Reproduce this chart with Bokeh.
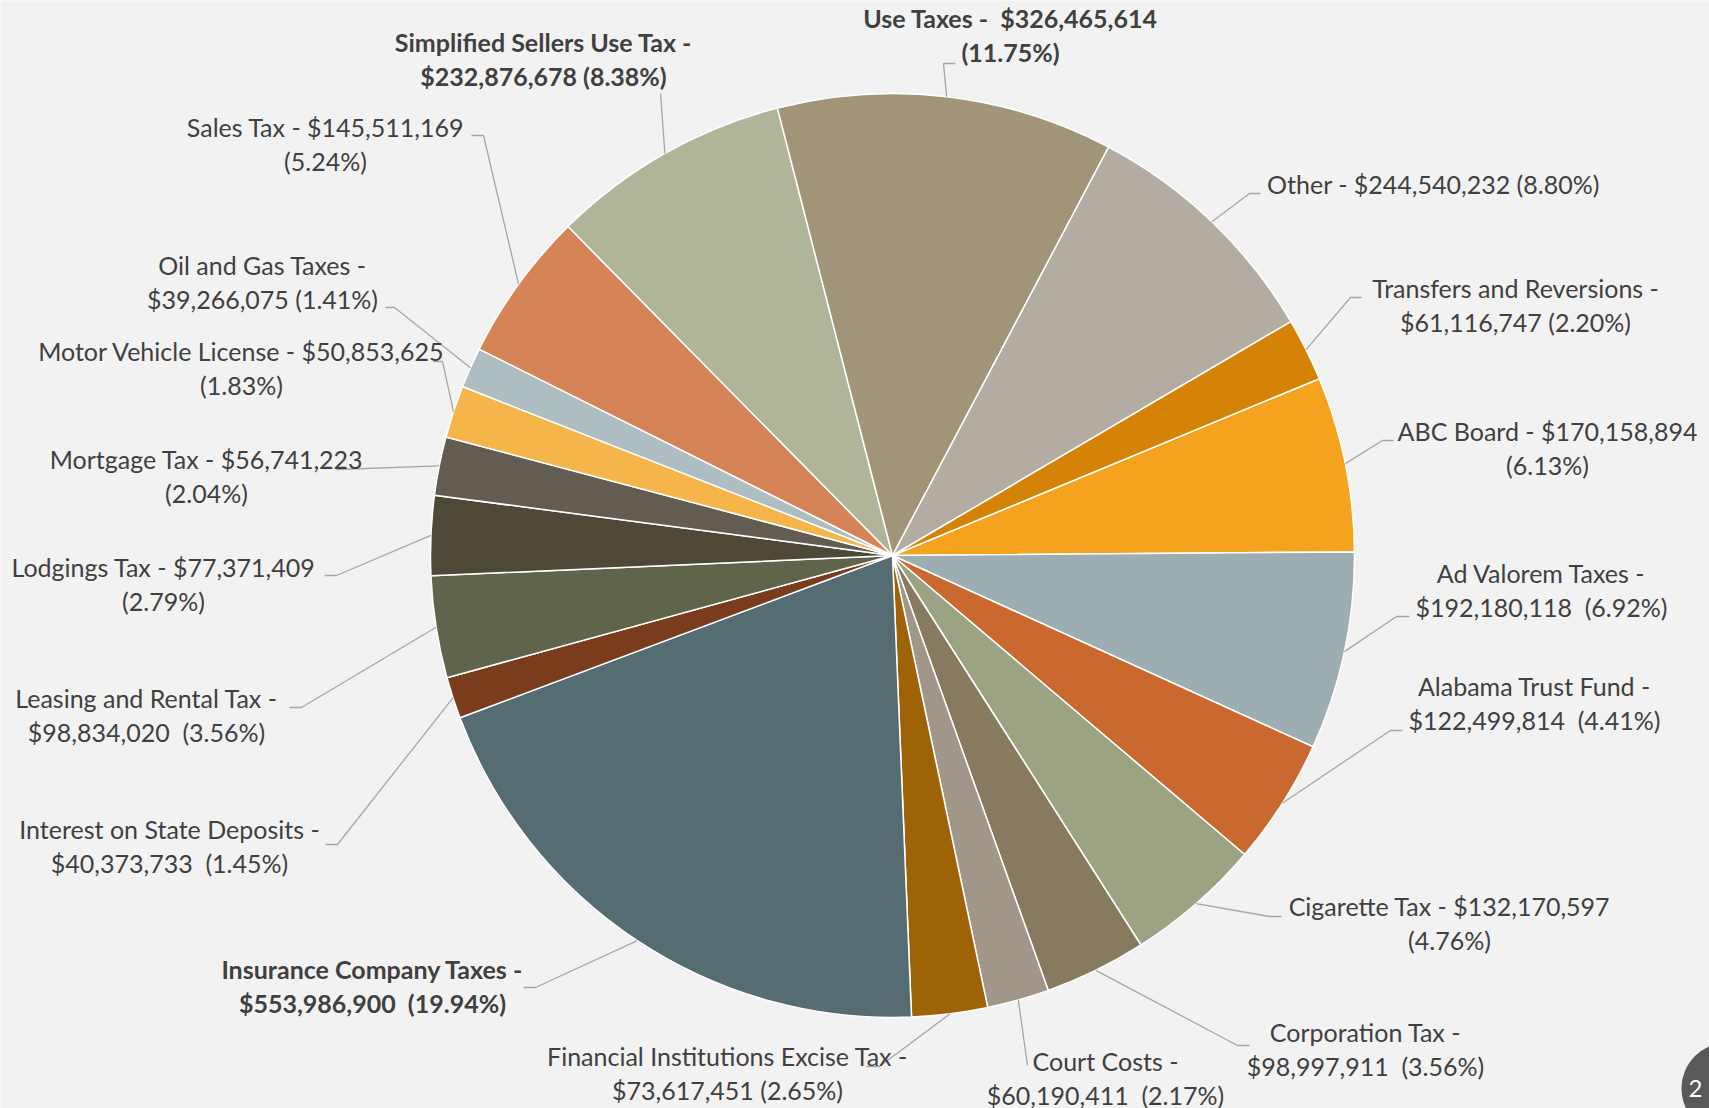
import math
from bokeh.plotting import figure
from bokeh.models import Range1d, ColumnDataSource
from bokeh.core.properties import value
from bokeh.embed import file_html
from bokeh.resources import INLINE

# ---------------- data ----------------
categories = ["ABC Board", "Ad Valorem Taxes", "Alabama Trust Fund", "Cigarette Tax",
              "Corporation Tax", "Court Costs", "Financial Institutions Excise Tax",
              "Insurance Company Taxes", "Interest on State Deposits", "Leasing and Rental Tax",
              "Lodgings Tax", "Mortgage Tax", "Motor Vehicle License", "Oil and Gas Taxes",
              "Sales Tax", "Simplified Sellers Use Tax", "Use Taxes", "Other",
              "Transfers and Reversions"]
amounts = [170158894, 192180118, 122499814, 132170597, 98997911, 60190411, 73617451,
           553986900, 40373733, 98834020, 77371409, 56741223, 50853625, 39266075,
           145511169, 232876678, 326465614, 244540232, 61116747]
percents = ["6.13%", "6.92%", "4.41%", "4.76%", "3.56%", "2.17%", "2.65%", "19.94%",
            "1.45%", "3.56%", "2.79%", "2.04%", "1.83%", "1.41%", "5.24%", "8.38%",
            "11.75%", "8.80%", "2.20%"]

# ---------------- styles / layout ----------------
colors = ["#F5A21F", "#9DAEB3", "#C9682F", "#9CA383", "#877A5E", "#A0978A", "#9E6307",
          "#556C72", "#793D1E", "#5F644A", "#4E4837", "#635C50", "#F6B54B", "#ADBDC2",
          "#D58457", "#B0B59A", "#A29478", "#B3ACA2", "#D48306"]
bold = {"Insurance Company Taxes", "Simplified Sellers Use Tax", "Use Taxes"}

NB = " \u00a0"  # visible double space
# line templates, label centre x, first baseline y (pixels from top), leader elbow points
label_layout = [
    (["{n} - {v}", "({p})"], 1547, 440, [(1393, 440), (1382, 440)]),
    (["{n} -", "{v}" + NB + "({p})"], 1541, 582, [(1409, 616), (1396, 616)]),
    (["{n} -", "{v}" + NB + "({p})"], 1534, 695, [(1402, 730), (1390, 730)]),
    (["{n} - {v}", "({p})"], 1449, 915, [(1281, 916), (1269, 916)]),
    (["{n} -", "{v}" + NB + "({p})"], 1365, 1041, [(1249, 1045), (1237, 1045)]),
    (["{n} -", "{v}" + NB + "({p})"], 1105, 1070, [(1027, 1065)]),
    (["{n} -", "{v} ({p})"], 727, 1065, [(866, 1066), (879, 1066)]),
    (["{n} -", "{v}" + NB + "({p})"], 372, 978, [(523, 987), (535, 987)]),
    (["{n} -", "{v}" + NB + "({p})"], 169, 838, [(325, 844), (337, 844)]),
    (["{n} -", "{v}" + NB + "({p})"], 146, 707, [(289, 707), (301, 707)]),
    (["{n} - {v}", "({p})"], 163, 576, [(324, 575), (336, 575)]),
    (["{n} - {v}", "({p})"], 206, 468, [(336, 469)]),
    (["{n} - {v}", "({p})"], 241, 360, [(433, 361), (442, 361)]),
    (["{n} -", "{v} ({p})"], 262, 274, [(385, 307), (394, 307)]),
    (["{n} - {v}", "({p})"], 325, 136, [(471, 135), (483, 135)]),
    (["{n} -", "{v} ({p})"], 543, 51, [(660, 93)]),
    (["{n} -" + NB + "{v}", "({p})"], 1010, 27.5, [(955, 63), (943, 63)]),
    (["{n} - {v} ({p})"], 1433, 193, [(1260, 193), (1249, 193)]),
    (["{n} -", "{v} ({p})"], 1515, 297, [(1361, 297), (1350, 297)]),
]

W, H = 1709, 1108
CX, CY, R = 892, 555, 462
FIRST_ANGLE = 67.5
LINE_GAP = 34
TEXT_DY = -10
TEXT_COLOR = "#404040"
FONT = "Lato"


def Y(yp):
    return H - yp


p = figure(width=W, height=H, output_backend="svg", toolbar_location=None,
           x_range=Range1d(0, W), y_range=Range1d(0, H), min_border=0)
p.axis.visible = False
p.grid.visible = False
p.outline_line_color = None
p.background_fill_color = "#F2F2F2"
p.border_fill_color = "#F2F2F2"

total = float(sum(amounts))
starts, ends, mids = [], [], []
cum = 0.0
for a in amounts:
    cw0 = FIRST_ANGLE + 360.0 * cum / total
    cum += a
    cw1 = FIRST_ANGLE + 360.0 * cum / total
    starts.append(math.radians(90 - cw0))
    ends.append(math.radians(90 - cw1))
    mids.append((cw0 + cw1) / 2.0)

src = ColumnDataSource(dict(start=starts, end=ends, color=colors, name=categories))
p.wedge(x=CX, y=Y(CY), radius=R, start_angle="start", end_angle="end", direction="clock",
        fill_color="color", line_color="white", line_width=1.5, source=src)

# leader lines
lx, ly = [], []
for (tmpl, cx, b, elbow), mid in zip(label_layout, mids):
    ax = CX + R * math.sin(math.radians(mid))
    ay = CY - R * math.cos(math.radians(mid))
    pts = list(elbow) + [(ax, ay)]
    lx.append([q[0] for q in pts])
    ly.append([Y(q[1]) for q in pts])
p.multi_line(xs=lx, ys=ly, line_color="#A6A6A6", line_width=1.3)

# labels
for name, amt, pc, (tmpl, cx, b, elbow) in zip(categories, amounts, percents, label_layout):
    for i, t in enumerate(tmpl):
        txt = t.format(n=name, v="${:,}".format(amt), p=pc)
        p.text(x=[cx], y=[Y(b + TEXT_DY + i * LINE_GAP)], text=[txt], text_align="center",
               text_baseline="alphabetic", text_font=value(FONT), text_font_size="25px",
               text_color=TEXT_COLOR,
               text_font_style="bold" if name in bold else "normal")

# slide page badge
p.scatter(x=[1727], y=[Y(1088)], size=92, marker="circle", fill_color="#595959", line_color=None)
p.text(x=[1688], y=[Y(1088)], text=["2"], text_align="left", text_baseline="alphabetic",
       text_font=value(FONT), text_font_size="24px", text_color="white")

open("out.html", "w").write(file_html(p, INLINE))
